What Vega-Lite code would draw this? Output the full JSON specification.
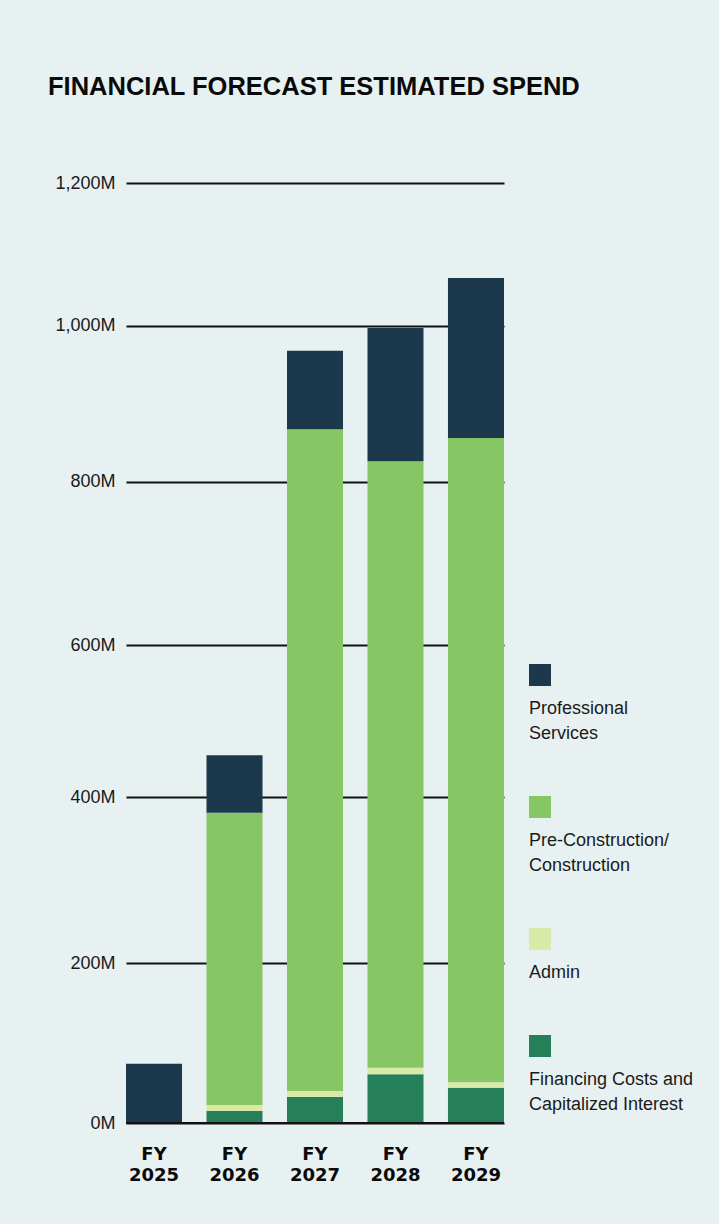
{
  "$schema": "https://vega.github.io/schema/vega-lite/v6.json",
  "autosize": {"type": "none"},
  "padding": {"left": 126, "top": 183, "right": 215, "bottom": 101},
  "width": 378,
  "height": 940,
  "background": "#e8f1f2",
  "title": {
    "text": "FINANCIAL FORECAST ESTIMATED SPEND",
    "anchor": "start",
    "frame": "group",
    "dx": -78,
    "offset": 54,
    "baseline": "alphabetic",
    "font": "Liberation Sans",
    "fontSize": 25.5,
    "fontWeight": "bold",
    "color": "#0a0a0a"
  },
  "config": {
    "view": {"stroke": null},
    "axis": {"labelFont": "Liberation Sans"}
  },
  "data": {
    "values": [
      {"year": "2025", "category": "Professional Services", "spend": 74},
      {"year": "2026", "category": "Financing Costs and Capitalized Interest", "spend": 15},
      {"year": "2026", "category": "Admin", "spend": 7.5},
      {"year": "2026", "category": "Pre-Construction/Construction", "spend": 358.5},
      {"year": "2026", "category": "Professional Services", "spend": 74},
      {"year": "2027", "category": "Financing Costs and Capitalized Interest", "spend": 32.5},
      {"year": "2027", "category": "Admin", "spend": 7.5},
      {"year": "2027", "category": "Pre-Construction/Construction", "spend": 827},
      {"year": "2027", "category": "Professional Services", "spend": 101},
      {"year": "2028", "category": "Financing Costs and Capitalized Interest", "spend": 61},
      {"year": "2028", "category": "Admin", "spend": 8},
      {"year": "2028", "category": "Pre-Construction/Construction", "spend": 757},
      {"year": "2028", "category": "Professional Services", "spend": 171},
      {"year": "2029", "category": "Financing Costs and Capitalized Interest", "spend": 44},
      {"year": "2029", "category": "Admin", "spend": 7},
      {"year": "2029", "category": "Pre-Construction/Construction", "spend": 805},
      {"year": "2029", "category": "Professional Services", "spend": 211}
    ]
  },
  "layer": [
    {
      "transform": [
        {"calculate": "indexof(['Financing Costs and Capitalized Interest','Admin','Pre-Construction/Construction','Professional Services'], datum.category)", "as": "stackOrder"}
      ],
      "mark": {"type": "bar"},
      "encoding": {
        "x": {
          "field": "year",
          "type": "ordinal",
          "scale": {"paddingInner": 0.304, "paddingOuter": 0},
          "axis": {
            "title": null,
            "domain": false,
            "ticks": false,
            "labelAngle": 0,
            "labelExpr": "['FY', datum.label]",
            "labelFont": "DejaVu Sans",
            "labelFontWeight": "bold",
            "labelFontSize": 18,
            "labelLineHeight": 21,
            "labelColor": "#0a0a0a",
            "labelPadding": 22
          }
        },
        "y": {
          "field": "spend",
          "type": "quantitative",
          "stack": "zero",
          "scale": {
            "domain": [0, 200, 400, 600, 800, 1000, 1200],
            "range": [940, 780, 614, 462, 298.5, 142.7, 0],
            "nice": false
          },
          "axis": {
            "title": null,
            "values": [0, 200, 400, 600, 800, 1000, 1200],
            "labelExpr": "format(datum.value, ',') + 'M'",
            "domain": false,
            "ticks": false,
            "grid": true,
            "gridColor": "#111111",
            "gridWidth": 2,
            "gridOpacity": 1,
            "labelFontSize": 18,
            "labelColor": "#1a1a1a",
            "labelPadding": 11
          }
        },
        "color": {
          "field": "category",
          "type": "nominal",
          "scale": {
            "domain": ["Professional Services", "Pre-Construction/Construction", "Admin", "Financing Costs and Capitalized Interest"],
            "range": ["#1b384c", "#86c664", "#d9e9a8", "#258059"]
          },
          "legend": {
            "title": null,
            "orient": "none",
            "legendX": 403,
            "legendY": 481,
            "symbolType": "square",
            "symbolSize": 484,
            "symbolStrokeWidth": 0,
            "symbolOpacity": 1,
            "labelFont": "Liberation Sans",
            "labelFontSize": 18,
            "labelColor": "#1a1a1a",
            "labelBaseline": "top",
            "labelOffset": -22,
            "labelLimit": 300,
            "rowPadding": 53,
            "labelExpr": "datum.label == 'Professional Services' ? ['', 'Professional', 'Services'] : datum.label == 'Pre-Construction/Construction' ? ['', 'Pre-Construction/', 'Construction'] : datum.label == 'Admin' ? ['', 'Admin'] : ['', 'Financing Costs and', 'Capitalized Interest']",
            "encode": {
              "labels": {"update": {"lineHeight": {"value": 25}}}
            }
          }
        },
        "order": {"field": "stackOrder", "type": "quantitative", "sort": "ascending"}
      }
    },
    {
      "mark": {"type": "rule", "color": "#111111", "strokeWidth": 2},
      "encoding": {"y": {"datum": 0, "type": "quantitative"}}
    }
  ]
}
